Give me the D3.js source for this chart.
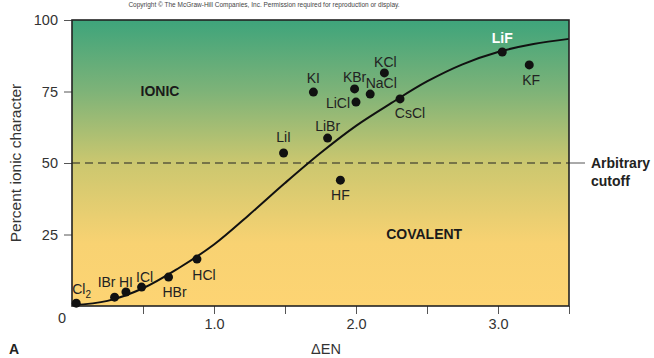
<!DOCTYPE html>
<html>
<head>
<meta charset="utf-8">
<script src="https://cdn.jsdelivr.net/npm/d3@7"></script>
<style>
  body { margin: 0; background: #fff; }
  svg { font-family: "Liberation Sans", Arial, Helvetica, sans-serif; }
  .axis text { font-size: 14.5px; fill: #333; }
  .axis path { display: none; }
  .axis line { stroke: #555; }
  .lbl { font-size: 14px; fill: #222; }
</style>
</head>
<body>
<svg></svg>
<script>
// compounds: name, delta EN, percent ionic character
var names = ["Cl2", "IBr", "HI", "ICl", "HBr", "HCl", "LiI", "LiBr", "HF", "KI", "KBr", "LiCl", "NaCl", "KCl", "CsCl", "LiF", "KF"];
var deltaEN = [0.03, 0.30, 0.38, 0.49, 0.68, 0.88, 1.49, 1.80, 1.89, 1.70, 1.99, 2.00, 2.10, 2.20, 2.31, 3.03, 3.22];
var ionicPct = [1.0, 3.1, 4.9, 6.6, 10.1, 16.4, 53.5, 58.7, 44.0, 74.8, 75.9, 71.3, 74.1, 81.5, 72.4, 88.8, 84.3];

// smooth curve
var curveX = [0, 0.25, 0.5, 0.75, 1.0, 1.25, 1.5, 1.75, 2.0, 2.25, 2.5, 2.75, 3.0, 3.25, 3.5];
var curveY = [0.3, 1.8, 6.2, 13.2, 21.5, 32.0, 43.0, 53.5, 63.0, 71.0, 78.5, 84.5, 88.8, 91.6, 93.4];

var yTicks = [25, 50, 75, 100];
var xTicks = [0.5, 1.0, 1.5, 2.0, 2.5, 3.0, 3.5];
var xTickLabels = ["1.0", "2.0", "3.0"];
var cutoff = 50;

var margin = { top: 20, left: 72 },
    width = 497,
    height = 286;

var svg = d3.select("svg")
    .attr("width", 654)
    .attr("height", 358);

var x = d3.scaleLinear().domain([0, 3.5]).range([0, width]);
var y = d3.scaleLinear().domain([0, 100]).range([height, 0]);

// gradient background
var defs = svg.append("defs");
var grad = defs.append("linearGradient")
    .attr("id", "bg")
    .attr("x1", 0).attr("y1", 0).attr("x2", 0).attr("y2", 1);
grad.append("stop").attr("offset", "0%").attr("stop-color", "#3ea47b");
grad.append("stop").attr("offset", "25%").attr("stop-color", "#7eb378");
grad.append("stop").attr("offset", "50%").attr("stop-color", "#cbc76f");
grad.append("stop").attr("offset", "78%").attr("stop-color", "#f8d272");
grad.append("stop").attr("offset", "100%").attr("stop-color", "#fdd473");

svg.append("text")
    .attr("x", 264)
    .attr("y", 7)
    .attr("text-anchor", "middle")
    .style("font-size", "6.5px")
    .style("fill", "#444")
    .text("Copyright \u00A9 The McGraw-Hill Companies, Inc. Permission required for reproduction or display.");

var g = svg.append("g")
    .attr("transform", "translate(" + margin.left + "," + margin.top + ")");

g.append("rect")
    .attr("width", width)
    .attr("height", height)
    .attr("fill", "url(#bg)");

// axes
g.append("g")
    .attr("class", "axis")
    .call(d3.axisLeft(y).tickValues(yTicks).tickSize(8).tickPadding(6).tickFormat(d3.format("d")));

g.append("g")
    .attr("class", "axis")
    .attr("transform", "translate(0," + height + ")")
    .call(d3.axisBottom(x).tickValues(xTicks).tickSize(8).tickPadding(5)
        .tickFormat(function(d) {
            var s = d3.format(".1f")(d);
            return xTickLabels.indexOf(s) >= 0 ? s : "";
        }));

g.append("text")
    .attr("x", -10)
    .attr("y", height + 17)
    .attr("text-anchor", "middle")
    .style("font-size", "14.5px")
    .style("fill", "#333")
    .text("0");

// cutoff
g.append("line")
    .attr("x1", 0).attr("x2", width)
    .attr("y1", y(cutoff)).attr("y2", y(cutoff))
    .style("stroke", "#222")
    .style("stroke-width", 1.2)
    .style("stroke-dasharray", "8,5");
g.append("line")
    .attr("x1", width).attr("x2", width + 16)
    .attr("y1", y(cutoff)).attr("y2", y(cutoff))
    .style("stroke", "#555")
    .style("stroke-width", 1);
g.append("text")
    .attr("x", width + 22)
    .attr("y", y(cutoff) + 5)
    .style("font-size", "14px")
    .style("font-weight", "bold")
    .style("fill", "#222")
    .text("Arbitrary");
g.append("text")
    .attr("x", width + 22)
    .attr("y", y(cutoff) + 23)
    .style("font-size", "14px")
    .style("font-weight", "bold")
    .style("fill", "#222")
    .text("cutoff");

// curve
var line = d3.line()
    .x(function(d, i) { return x(curveX[i]); })
    .y(function(d) { return y(d); })
    .curve(d3.curveCatmullRom);

g.append("path")
    .datum(curveY)
    .attr("d", line)
    .style("fill", "none")
    .style("stroke", "#111")
    .style("stroke-width", 2);

// frame
g.append("rect")
    .attr("width", width)
    .attr("height", height)
    .style("fill", "none")
    .style("stroke", "#222")
    .style("stroke-width", 1.6);

// points
g.selectAll(".pt")
    .data(names)
    .enter().append("circle")
    .attr("class", "pt")
    .attr("cx", function(d, i) { return x(deltaEN[i]); })
    .attr("cy", function(d, i) { return y(ionicPct[i]); })
    .attr("r", 4.5)
    .style("fill", "#111");

// label offsets (dx, dy from point, anchor)
var labelPos = {
    "Cl2": [-4, -9, "start"], "IBr": [-8, -10, "middle"], "HI": [0, -5, "middle"],
    "ICl": [3, -5, "middle"], "HBr": [6, 20, "middle"], "HCl": [7, 21, "middle"],
    "LiI": [0, -11, "middle"], "LiBr": [0, -7, "middle"], "HF": [0, 20, "middle"],
    "KI": [0, -9, "middle"], "KBr": [0, -7, "middle"], "LiCl": [-6, 6, "end"],
    "NaCl": [11, -6, "middle"], "KCl": [1, -6, "middle"], "CsCl": [10, 19, "middle"],
    "LiF": [0, -9, "middle"], "KF": [2, 20, "middle"]
};

names.forEach(function(n, i) {
    var p = labelPos[n];
    var t = g.append("text")
        .attr("class", "lbl")
        .attr("x", x(deltaEN[i]) + p[0])
        .attr("y", y(ionicPct[i]) + p[1])
        .attr("text-anchor", p[2]);
    if (n === "Cl2") {
        t.append("tspan").text("Cl");
        t.append("tspan").attr("dy", 4).style("font-size", "10px").text("2");
    } else {
        t.text(n);
    }
    if (n === "LiF") t.style("fill", "#fff").style("font-weight", "bold");
});

// region labels
g.append("text")
    .attr("x", x(0.62))
    .attr("y", y(73.5))
    .attr("text-anchor", "middle")
    .style("font-size", "14px")
    .style("font-weight", "bold")
    .style("fill", "#1a1a1a")
    .text("IONIC");
g.append("text")
    .attr("x", x(2.48))
    .attr("y", y(23.5))
    .attr("text-anchor", "middle")
    .style("font-size", "14px")
    .style("font-weight", "bold")
    .style("fill", "#1a1a1a")
    .text("COVALENT");

// axis titles
svg.append("text")
    .attr("transform", "translate(21,163) rotate(-90)")
    .attr("text-anchor", "middle")
    .style("font-size", "15.5px")
    .style("fill", "#333")
    .text("Percent ionic character");
svg.append("text")
    .attr("x", 326)
    .attr("y", 354)
    .attr("text-anchor", "middle")
    .style("font-size", "14.5px")
    .style("fill", "#333")
    .text("\u0394EN");
svg.append("text")
    .attr("x", 9)
    .attr("y", 354)
    .style("font-size", "14px")
    .style("font-weight", "bold")
    .style("fill", "#222")
    .text("A");
</script>
</body>
</html>
